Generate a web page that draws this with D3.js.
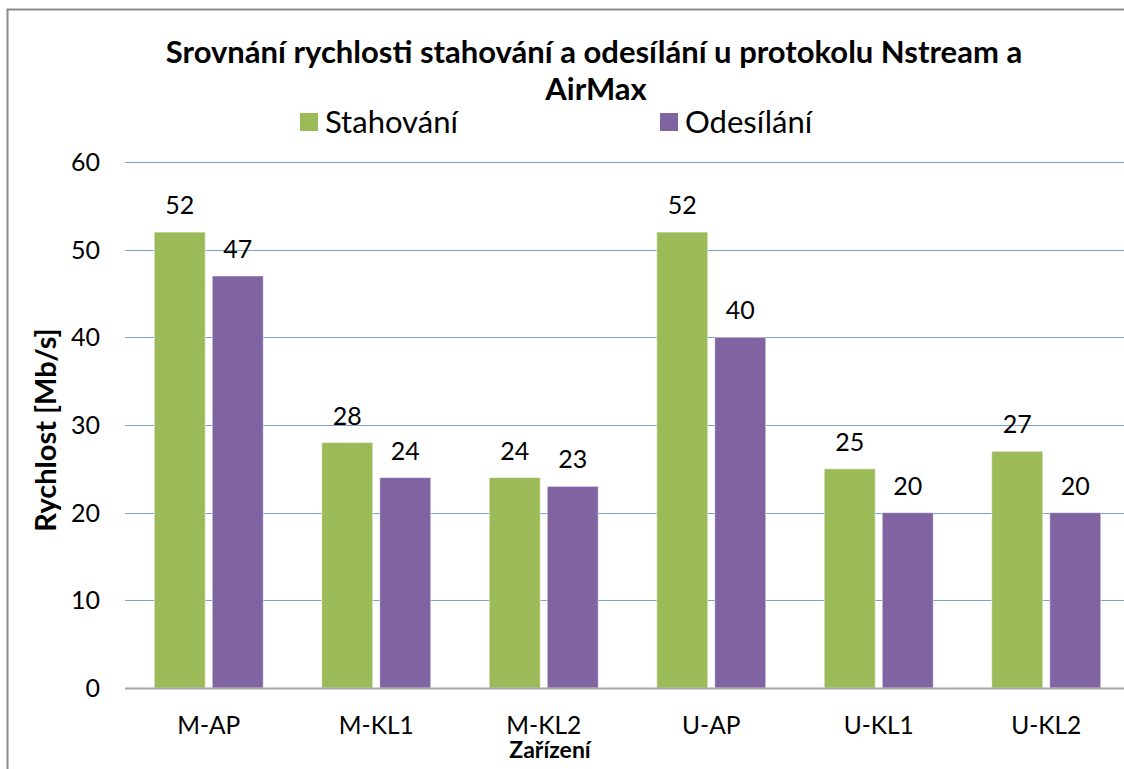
<!DOCTYPE html>
<html>
<head>
<meta charset="utf-8">
<script src="https://cdn.jsdelivr.net/npm/d3@7"></script>
<style>
  body { margin: 0; background: #fff; }
  text { font-family: Lato, "Open Sans", sans-serif; fill: #000; }
</style>
</head>
<body>
<div id="chart"></div>
<script>
(function() {

    var width = 1124;
    var height = 769;

    // data
    var devices = ["M-AP", "M-KL1", "M-KL2", "U-AP", "U-KL1", "U-KL2"];
    var stahovani = [52, 28, 24, 52, 25, 27];
    var odesilani = [47, 24, 23, 40, 20, 20];
    var seriesNames = ["Stahování", "Odesílání"];
    var seriesColors = ["#9BBB59", "#8064A2"];
    var yTicks = [0, 10, 20, 30, 40, 50, 60];

    var margin = {left: 125, right: -6, top: 162, bottom: 81};

    var svg = d3.select("#chart")
        .append("svg")
        .attr("width", width)
        .attr("height", height);

    // chart border
    svg.append("rect")
        .attr("x", 7.5).attr("y", 9.5)
        .attr("width", width + 20).attr("height", height + 20)
        .attr("fill", "#fff")
        .attr("stroke", "#8c8c8c")
        .attr("stroke-width", 2);

    var x = d3.scaleBand()
        .domain(devices)
        .range([margin.left, width - margin.right]);

    var y = d3.scaleLinear()
        .domain([0, 60])
        .range([height - margin.bottom, margin.top]);

    // gridlines
    svg.append("g")
        .selectAll("line")
        .data(yTicks.filter(d => d > 0))
        .enter().append("line")
        .attr("x1", margin.left).attr("x2", width)
        .attr("y1", d => Math.round(y(d)) + 0.5)
        .attr("y2", d => Math.round(y(d)) + 0.5)
        .attr("stroke", "#4F81BD")
        .attr("stroke-opacity", 0.75)
        .attr("stroke-width", 1);

    // y tick labels
    svg.append("g")
        .selectAll("text")
        .data(yTicks)
        .enter().append("text")
        .attr("x", 100)
        .attr("y", d => y(d) + 9)
        .attr("text-anchor", "end")
        .style("font-size", "25px")
        .text(d => d);

    var barW = 51;
    var gap = 7;
    var data = devices.map(function(d, i) {
        return {device: d, values: [stahovani[i], odesilani[i]]};
    });

    var groups = svg.append("g")
        .selectAll("g")
        .data(data)
        .enter().append("g")
        .attr("transform", d => "translate(" + (x(d.device) + x.bandwidth() / 2) + ",0)");

    groups.selectAll("rect")
        .data(d => d.values)
        .enter().append("rect")
        .attr("x", (d, i) => i === 0 ? -barW - gap / 2 : gap / 2)
        .attr("y", d => y(d))
        .attr("width", barW)
        .attr("height", d => y(0) - y(d))
        .attr("fill", (d, i) => seriesColors[i])
        .attr("stroke", "#fff")
        .attr("stroke-opacity", 0.5)
        .attr("stroke-width", 1);

    groups.selectAll("text")
        .data(d => d.values)
        .enter().append("text")
        .attr("x", (d, i) => i === 0 ? -barW / 2 - gap / 2 : barW / 2 + gap / 2)
        .attr("y", d => y(d) - 18)
        .attr("text-anchor", "middle")
        .style("font-size", "25px")
        .text(d => d);

    // baseline
    svg.append("line")
        .attr("x1", margin.left).attr("x2", width)
        .attr("y1", Math.round(y(0)) + 0.5).attr("y2", Math.round(y(0)) + 0.5)
        .attr("stroke", "#a6a6a6")
        .attr("stroke-width", 2);

    // x labels
    svg.append("g")
        .selectAll("text")
        .data(devices)
        .enter().append("text")
        .attr("x", d => x(d) + x.bandwidth() / 2)
        .attr("y", 734)
        .attr("text-anchor", "middle")
        .style("font-size", "24.5px")
        .text(d => d);

    // axis titles
    svg.append("text")
        .attr("x", 550).attr("y", 758)
        .attr("text-anchor", "middle")
        .style("font-size", "23px")
        .style("font-weight", "bold")
        .text("Zařízení");

    svg.append("text")
        .attr("transform", "translate(56,430) rotate(-90)")
        .attr("text-anchor", "middle")
        .style("font-size", "29px")
        .style("font-weight", "bold")
        .text("Rychlost [Mb/s]");

    // title
    var title = svg.append("text")
        .attr("text-anchor", "middle")
        .style("font-size", "31px")
        .style("font-weight", "bold");
    title.append("tspan").attr("x", 594).attr("y", 63)
        .text("Srovnání rychlosti stahování a odesílání u protokolu Nstream a");
    title.append("tspan").attr("x", 596).attr("y", 100)
        .text("AirMax");

    // legend
    var legendX = [300, 660];
    var legend = svg.append("g")
        .selectAll("g")
        .data(seriesNames)
        .enter().append("g")
        .attr("transform", (d, i) => "translate(" + legendX[i] + ",113)");
    legend.append("rect")
        .attr("width", 18).attr("height", 18)
        .attr("fill", (d, i) => seriesColors[i]);
    legend.append("text")
        .attr("x", 25).attr("y", 20)
        .style("font-size", "31px")
        .text(d => d);

})();
</script>
</body>
</html>
